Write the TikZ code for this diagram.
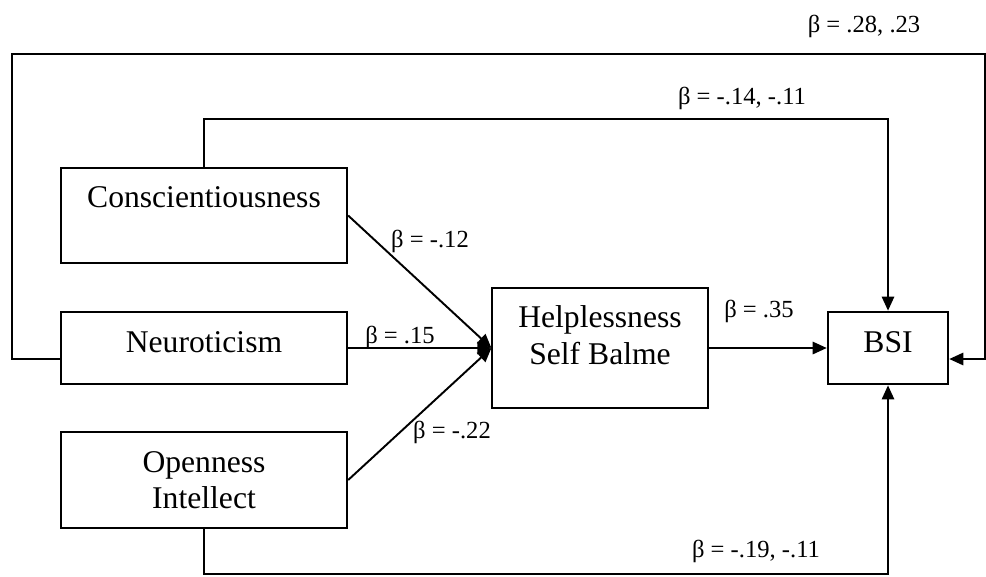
\documentclass[tikz,border=0pt]{standalone}
\usepackage{fontspec}
\setmainfont{Liberation Serif}
\usepackage{tikz}
\usetikzlibrary{calc,arrows.meta}
\tikzset{box/.style={draw, line width=1.1pt, inner sep=0pt,
         font=\fontsize{18}{20.7}\selectfont},
         oneline/.style={text height=12pt, text depth=7pt},
         arr/.style={line width=1.1pt, -{Triangle[length=8pt,width=7pt]}},
         lbl/.style={inner sep=0pt, anchor=base, font=\fontsize{14}{16}\selectfont}}

\begin{document}
\begin{tikzpicture}[x=0.02cm, y=-0.02cm]
\useasboundingbox (0,0) rectangle (986,576);

% predictors
\node [box, oneline, minimum width=163pt, minimum height=54.4pt, text depth=20.7pt] (consc) at (204,215.5) {Conscientiousness};
\node [box, oneline, minimum width=163pt, minimum height=41.4pt] (neuro) at (204,348) {Neuroticism};
\node [box, align=center, minimum width=163pt, minimum height=54.4pt] (open) at (204,480) {Openness\\Intellect};

% mediator and outcome
\node [box, align=center, minimum width=122.5pt, minimum height=68.6pt, text depth=14.8pt] (help) at (600,348) {Helplessness\\Self Balme};
\node [box, oneline, minimum width=68.6pt, minimum height=41.4pt] (bsi) at (888,348) {BSI};

\draw [arr] (consc.east) -- (help.west);
\draw [arr] (neuro.east) -- (help.west);
\draw [arr] (open.east) -- (help.west);
\draw [arr] (help.east) -- (bsi.west);

% direct paths
\coordinate (ctop) at (888,119);
\coordinate (obot) at (888,574);
\coordinate (ltop) at (12,54);
\coordinate (rtop) at (985,54);
\draw [arr] (consc.north) |- (ctop) -- (bsi.north);
\draw [arr] (open.south) |- (obot) -- (bsi.south);
\draw [arr] ($(neuro.west)+(0,11)$) -| (ltop) -- (rtop) |- ($(bsi.east)+(0,11)$);

\node [lbl] (bNtop) at (864,32) {β = .28, .23};
\node [lbl] (bCtop) at (742,104) {β = -.14, -.11};
\node [lbl] (bC) at (430,247) {β = -.12};
\node [lbl] (bN) at (400,343) {β = .15};
\node [lbl] (bO) at (452,438) {β = -.22};
\node [lbl] (bH) at (759,317) {β = .35};
\node [lbl] (bObot) at (756,557) {β = -.19, -.11};

\end{tikzpicture}
\end{document}
